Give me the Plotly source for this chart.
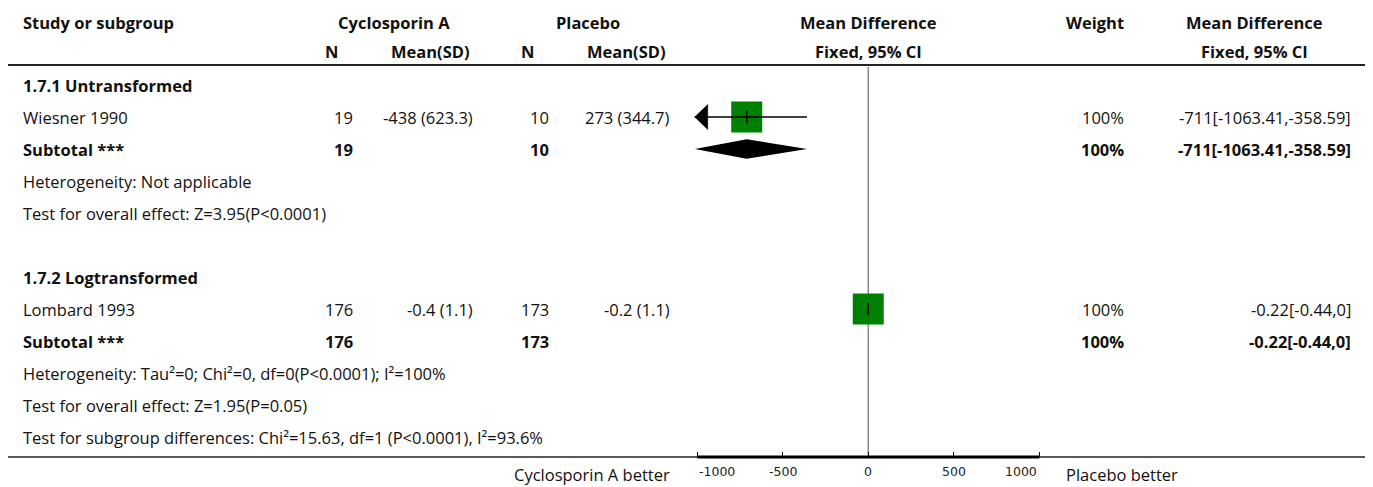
import plotly.graph_objects as go

# ---------------- data ----------------
group_titles = ["1.7.1 Untransformed", "1.7.2 Logtransformed"]
studies = ["Wiesner 1990", "Lombard 1993"]
csa_n = [19, 176]
csa_mean = [-438, -0.4]
csa_sd = [623.3, 1.1]
pl_n = [10, 173]
pl_mean = [273, -0.2]
pl_sd = [344.7, 1.1]
md = [-711, -0.22]
md_lo = [-1063.41, -0.44]
md_hi = [-358.59, 0]
weights = [100, 100]
sub_md = [-711, -0.22]
sub_lo = [-1063.41, -0.44]
sub_hi = [-358.59, 0]
heterogeneity = ["Heterogeneity: Not applicable",
                 "Heterogeneity: Tau²=0; Chi²=0, df=0(P<0.0001); I²=100%"]
overall = ["Test for overall effect: Z=3.95(P<0.0001)",
           "Test for overall effect: Z=1.95(P=0.05)"]
subgroup_test = "Test for subgroup differences: Chi²=15.63, df=1 (P<0.0001), I²=93.6%"
tick_vals = [-1000, -500, 0, 500, 1000]
tick_text = ["-1000", "-500", "0", "500", "1000"]
left_label = "Cyclosporin A better"
right_label = "Placebo better"

# ---------------- layout constants ----------------
W, H = 1373, 487
FONT = "Open Sans"
FS = 16.5
ZERO_PX = 868.3
PX_PER_UNIT = 0.171
XMIN, XMAX = -1100, 1100
XCLIP = -1015
ROW0_PX, ROW_PX = 85, 32

def row_of(px):
    return (px - ROW0_PX) / ROW_PX

def pxx(px):
    return px / W

x_dom = [(ZERO_PX + XMIN * PX_PER_UNIT) / W, (ZERO_PX + XMAX * PX_PER_UNIT) / W]

fig = go.Figure()
ann = []

def text(x, row, s, anchor="left", bold=False, size=FS, color="#111", family=FONT, xref="paper"):
    ann.append(dict(x=pxx(x) if xref == "paper" else x, y=row, xref=xref, yref="y",
                    text=("<b>%s</b>" % s) if bold else s,
                    showarrow=False, xanchor=anchor, yanchor="middle",
                    font=dict(family=family, size=size, color=color)))

# headers
h1, h2 = row_of(22), row_of(51)
text(21, h1, "Study or subgroup", bold=True)
text(394, h1, "Cyclosporin A", "center", True)
text(588, h1, "Placebo", "center", True)
text(868, h1, "Mean Difference", "center", True)
text(1095, h1, "Weight", "center", True)
text(1254, h1, "Mean Difference", "center", True)
text(331, h2, "N", "center", True)
text(430, h2, "Mean(SD)", "center", True)
text(527, h2, "N", "center", True)
text(626, h2, "Mean(SD)", "center", True)
text(868, h2, "Fixed, 95% CI", "center", True)
text(1254, h2, "Fixed, 95% CI", "center", True)

BOX = 31
for k in range(2):
    base = 6 * k
    r_title, r_study, r_sub, r_het, r_ov = base, base + 1, base + 2, base + 3, base + 4
    text(21, r_title, group_titles[k], bold=True)
    text(21, r_study, studies[k])
    text(355, r_study, str(csa_n[k]), "right")
    text(475, r_study, "%g (%g)" % (csa_mean[k], csa_sd[k]), "right")
    text(551, r_study, str(pl_n[k]), "right")
    text(672, r_study, "%g (%g)" % (pl_mean[k], pl_sd[k]), "right")
    text(1126, r_study, "%g%%" % weights[k], "right")
    text(1353, r_study, "%g[%g,%g]" % (md[k], md_lo[k], md_hi[k]), "right")
    text(21, r_sub, "Subtotal ***", bold=True)
    text(355, r_sub, str(csa_n[k]), "right", True)
    text(551, r_sub, str(pl_n[k]), "right", True)
    text(1126, r_sub, "%g%%" % weights[k], "right", True)
    text(1353, r_sub, "%g[%g,%g]" % (sub_md[k], sub_lo[k], sub_hi[k]), "right", True)
    text(21, r_het, heterogeneity[k])
    text(21, r_ov, overall[k])

    # box
    fig.add_trace(go.Scatter(x=[md[k]], y=[r_study], mode="markers",
                             marker=dict(symbol="square", size=BOX * weights[k] / 100, color="#008000",
                                         line=dict(width=0)), hoverinfo="skip"))
    lo = max(md_lo[k], XCLIP)
    fig.add_trace(go.Scatter(x=[lo, md_hi[k]], y=[r_study, r_study], mode="lines",
                             line=dict(color="black", width=1.3), hoverinfo="skip"))
    if md_lo[k] < XCLIP:
        alen = 13 / PX_PER_UNIT
        ah = 12.5 / ROW_PX
        fig.add_trace(go.Scatter(x=[XCLIP, XCLIP + alen, XCLIP + alen, XCLIP],
                                 y=[r_study, r_study - ah, r_study + ah, r_study],
                                 mode="lines", fill="toself", fillcolor="black",
                                 line=dict(color="black", width=0.5), hoverinfo="skip"))
    fig.add_trace(go.Scatter(x=[md[k]], y=[r_study], mode="markers",
                             marker=dict(symbol="line-ns", size=9, line=dict(color="black", width=1.3)),
                             hoverinfo="skip"))
    # diamond
    dh = 9.7 / ROW_PX
    dlo = max(sub_lo[k], XCLIP)
    fig.add_trace(go.Scatter(x=[dlo, sub_md[k], sub_hi[k], sub_md[k], dlo],
                             y=[r_sub, r_sub - dh, r_sub, r_sub + dh, r_sub],
                             mode="lines", fill="toself", fillcolor="black",
                             line=dict(color="black", width=0), hoverinfo="skip"))

text(21, 11, subgroup_test)
text(672, row_of(474), left_label, "right")
text(1064, row_of(474), right_label, "left")

# tick labels (end labels kept inside the axis span)
for i, (tv, tt) in enumerate(zip(tick_vals, tick_text)):
    anchor = "left" if i == 0 else ("right" if i == len(tick_vals) - 1 else "center")
    text(tv, row_of(471), tt, anchor, size=12.5, color="#222", family="DejaVu Sans", xref="x")

shapes = []
# header line and bottom line
shapes.append(dict(type="line", xref="paper", yref="y", x0=pxx(8), x1=pxx(1365),
                   y0=row_of(65), y1=row_of(65), line=dict(color="#222", width=2)))
shapes.append(dict(type="line", xref="paper", yref="y", x0=pxx(8), x1=pxx(1365),
                   y0=row_of(457), y1=row_of(457), line=dict(color="#222", width=1.5)))
# axis line
shapes.append(dict(type="line", xref="x", yref="y", x0=tick_vals[0], x1=tick_vals[-1],
                   y0=row_of(457), y1=row_of(457), line=dict(color="black", width=3)))
# zero line
shapes.append(dict(type="line", xref="x", yref="y", x0=0, x1=0,
                   y0=row_of(67), y1=row_of(457), line=dict(color="#888", width=1.5), layer="below"))

fig.update_layout(
    width=W, height=H, margin=dict(l=0, r=0, t=0, b=0),
    paper_bgcolor="white", plot_bgcolor="white", showlegend=False,
    annotations=ann, shapes=shapes,
    xaxis=dict(domain=x_dom, range=[XMIN, XMAX], anchor="free", position=(H - 457) / H,
               showgrid=False, zeroline=False, showline=False,
               tickmode="array", tickvals=tick_vals, showticklabels=False,
               ticks="inside", ticklen=5, tickwidth=1, tickcolor="black"),
    yaxis=dict(domain=[0, 1], range=[row_of(H), row_of(0)], visible=False),
)

fig.write_html("out.html")
